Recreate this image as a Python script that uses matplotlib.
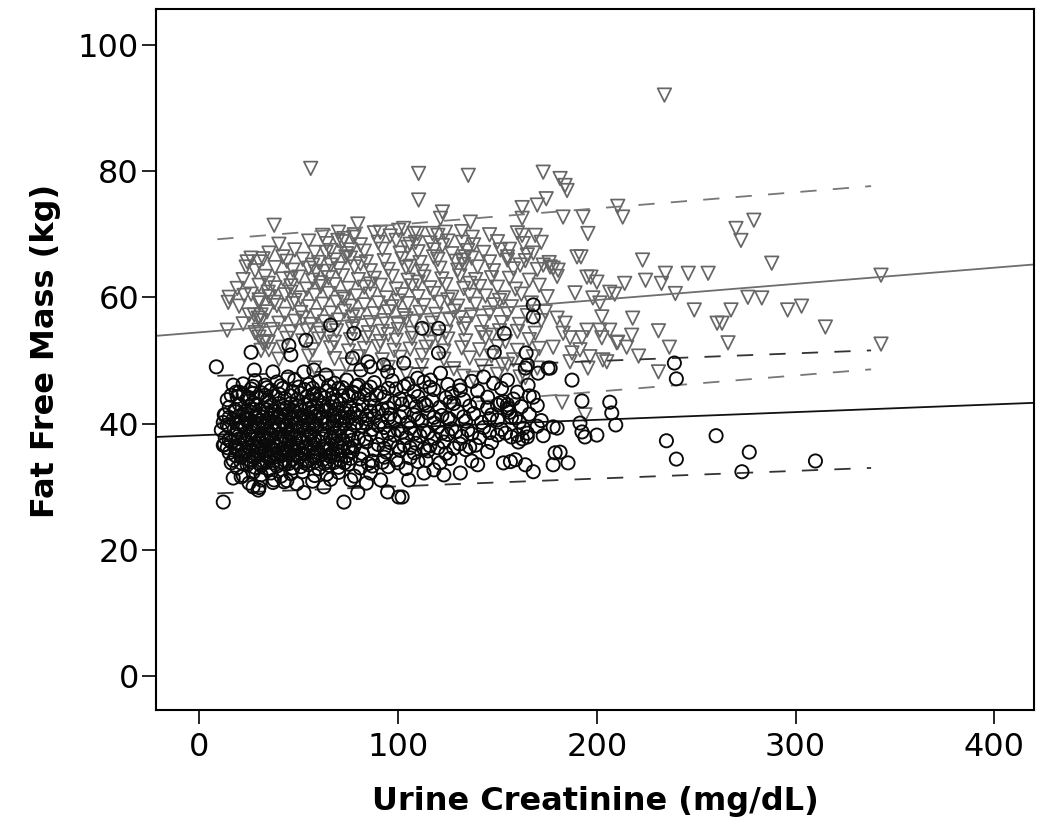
import matplotlib
matplotlib.use("Agg")
import matplotlib.pyplot as plt
import numpy as np

# ---------------- data ----------------
# Female (circles): dense core rows + scattered points
female_x = [
    22, 28, 33, 39, 48, 55, 60, 68, 74, 80, 88, 97, 105, 113, 125, 137, 148,
    20, 26, 31, 36, 42, 47, 53, 58, 64, 70, 77, 84, 91, 99, 108, 118, 127, 140, 152, 160,
    14, 19, 24, 29, 34, 38, 43, 49, 54, 59, 63, 69, 75, 80, 86, 93, 101, 110, 117, 124, 133, 145, 158, 166,
    15, 20, 25, 28, 32, 36, 40, 44, 49, 53, 57, 62, 66, 71, 76, 82, 88, 95, 102, 109, 114, 121, 128, 136, 145, 150, 162, 170,
    13, 18, 22, 26, 30, 34, 37, 41, 45, 48, 52, 56, 60, 64, 68, 73, 78, 84, 90, 96, 103, 108, 115, 122, 130, 138, 147, 156, 166,
    12, 17, 21, 24, 28, 31, 35, 38, 42, 46, 49, 53, 57, 61, 65, 69, 74, 79, 85, 91, 98, 105, 112, 118, 126, 134, 142, 150, 161, 172,
    11, 15, 19, 23, 27, 30, 33, 37, 40, 44, 47, 51, 55, 59, 63, 67, 71, 76, 82, 87, 93, 100, 106, 113, 120, 127, 135, 143, 152, 163, 170,
    13, 18, 22, 25, 29, 32, 36, 39, 43, 46, 50, 54, 58, 62, 66, 70, 75, 80, 86, 92, 98, 104, 111, 118, 125, 132, 141, 150, 157,
    12, 16, 20, 24, 27, 31, 34, 38, 41, 45, 49, 52, 56, 60, 64, 69, 73, 78, 84, 90, 96, 103, 109, 116, 123, 131, 139, 147,
    15, 19, 23, 26, 30, 33, 37, 40, 44, 48, 51, 55, 59, 63, 67, 72, 77, 82, 88, 94, 101, 108, 115, 124, 134, 145,
    17, 21, 25, 28, 32, 35, 39, 43, 47, 50, 54, 58, 62, 66, 71, 76, 81, 87, 93, 99, 106, 114, 126, 137,
    19, 24, 28, 31, 35, 39, 43, 47, 51, 55, 60, 65, 70, 75, 81, 87, 95, 104,
    22, 27, 31, 36, 41, 46, 52, 58, 64, 70, 78, 86,
    25, 31, 37, 44, 49, 57, 66, 84,
    27, 35, 46, 56, 67, 29, 40, 51, 62, 72, 26, 35, 45, 56, 68, 30, 42, 53, 64, 75, 36, 47, 58, 70,
]
female_y = [
    46.3, 46.8, 46.1, 46.6, 46.9, 46.2, 46.7, 46.4, 46.9, 46.1, 46.5, 46.8, 46.3, 46.6, 46.2, 46.7, 46.4,
    45.0, 45.5, 44.9, 45.3, 45.6, 45.1, 45.4, 44.8, 45.2, 45.6, 45.0, 45.3, 44.9, 45.5, 45.1, 45.4, 44.8, 45.2, 45.6, 45.0,
    43.8, 44.3, 43.9, 44.2, 43.7, 44.4, 44.0, 43.8, 44.3, 43.9, 44.1, 43.7, 44.4, 44.0, 43.8, 44.2, 43.9, 44.3, 43.7, 44.1, 43.8, 44.2, 43.9, 44.4,
    42.6, 43.1, 42.7, 43.0, 42.5, 42.9, 43.2, 42.6, 42.8, 43.1, 42.5, 42.9, 42.7, 43.2, 42.6, 43.0, 42.8, 42.5, 43.1, 42.7, 42.9, 42.6, 43.2, 42.8, 42.5, 43.0, 42.7, 42.9,
    41.4, 41.9, 41.5, 41.8, 41.3, 41.7, 42.0, 41.4, 41.6, 41.9, 41.3, 41.8, 41.5, 42.0, 41.4, 41.7, 41.6, 41.3, 41.9, 41.5, 41.8, 41.4, 41.7, 41.3, 41.9, 41.6, 41.4, 41.8, 41.5,
    40.2, 40.7, 40.3, 40.6, 40.1, 40.5, 40.8, 40.2, 40.4, 40.7, 40.1, 40.6, 40.3, 40.8, 40.2, 40.5, 40.4, 40.1, 40.7, 40.3, 40.6, 40.2, 40.5, 40.1, 40.7, 40.4, 40.2, 40.6, 40.3, 40.5,
    39.0, 39.5, 39.1, 39.4, 38.9, 39.3, 39.6, 39.0, 39.2, 39.5, 38.9, 39.4, 39.1, 39.6, 39.0, 39.3, 39.2, 38.9, 39.5, 39.1, 39.4, 39.0, 39.3, 38.9, 39.5, 39.2, 39.0, 39.4, 39.1, 39.3, 39.6,
    37.8, 38.3, 37.9, 38.2, 37.7, 38.1, 38.4, 37.8, 38.0, 38.3, 37.7, 38.2, 37.9, 38.4, 37.8, 38.1, 38.0, 37.7, 38.3, 37.9, 38.2, 37.8, 38.1, 37.7, 38.3, 38.0, 37.8, 38.2, 37.9,
    36.6, 37.1, 36.7, 37.0, 36.5, 36.9, 37.2, 36.6, 36.8, 37.1, 36.5, 37.0, 36.7, 37.2, 36.6, 36.9, 36.8, 36.5, 37.1, 36.7, 37.0, 36.6, 36.9, 36.5, 37.1, 36.8, 36.6, 37.0,
    35.4, 35.9, 35.5, 35.8, 35.3, 35.7, 36.0, 35.4, 35.6, 35.9, 35.3, 35.8, 35.5, 36.0, 35.4, 35.7, 35.6, 35.3, 35.9, 35.5, 35.8, 35.4, 35.7, 35.3, 35.9, 35.6,
    34.2, 34.7, 34.3, 34.6, 34.1, 34.5, 34.8, 34.2, 34.4, 34.7, 34.1, 34.6, 34.3, 34.8, 34.2, 34.5, 34.4, 34.1, 34.7, 34.3, 34.6, 34.2, 34.5, 34.1,
    33.0, 33.5, 33.1, 33.4, 32.9, 33.3, 33.6, 33.0, 33.2, 33.5, 32.9, 33.4, 33.1, 33.6, 33.0, 33.3, 33.2, 32.9,
    31.8, 32.3, 31.9, 32.2, 31.7, 32.1, 32.4, 31.8, 32.0, 32.3, 31.7, 32.2,
    30.6, 31.1, 30.7, 31.0, 30.5, 30.9, 31.2, 30.6,
    43.3, 43.5, 43.2, 43.6, 43.4, 40.9, 41.1, 40.8, 41.0, 40.9, 38.6, 38.4, 38.7, 38.5, 38.6, 36.2, 36.0, 36.3, 36.1, 36.2, 34.9, 35.1, 34.8, 35.0,
]
# second, offset layer of the very dense female core
female_core_x = [
    27, 34, 41, 50, 57, 65, 72, 79, 86, 95, 103, 116, 131,
    22, 27, 33, 40, 46, 51, 57, 61, 67, 72, 78, 83, 89,
    98, 106, 113, 126, 140, 153,
    18, 23, 27, 30, 34, 38, 42, 47, 51, 55, 59, 64, 69, 74, 79, 86, 92,
    15, 20, 24, 28, 32, 36, 39, 43, 47, 50, 55, 58, 62, 67, 71, 76, 81, 88,
    95, 101, 110, 118, 125, 133, 146, 157,
    14, 19, 22, 26, 29, 33, 36, 40, 44, 48, 52, 55, 59, 64, 68, 73, 78, 84, 90,
    95, 102, 108, 115, 122, 129, 137, 146, 154,
    15, 20, 23, 27, 30, 34, 37, 41, 44, 48, 51, 55, 58, 62, 67, 72, 77, 83,
    14, 18, 22, 25, 29, 32, 36, 39, 43, 46, 50, 54, 58, 62, 66, 71, 76, 93, 100, 106, 113, 120, 128, 136,
    18, 22, 26, 29, 33, 38, 41, 45, 49, 53, 57, 61, 65, 69, 74,
    21, 26, 30, 34, 37, 41, 45, 49, 53, 58, 63, 68, 73, 85, 92, 100, 110, 121,
]
female_core_y = [
    45.9, 45.7, 46.0, 45.8, 45.6, 46.0, 45.7, 45.9, 45.8, 45.6, 45.9, 45.8, 46.0,
    44.6, 44.8, 44.5, 44.7, 44.4, 44.8, 44.6, 44.5, 44.7, 44.4, 44.8, 44.6, 44.5,
    43.3, 43.5, 43.2, 43.4, 43.3, 43.5,
    42.2, 42.0, 42.3, 42.1, 42.2, 42.0, 42.3, 42.1, 42.2, 42.4, 42.0, 42.2, 42.3, 42.1, 42.2, 42.0, 42.3,
    41.0, 41.2, 40.9, 41.1, 41.0, 41.2, 40.9, 41.1, 41.0, 41.2, 40.9, 41.1, 41.0, 41.2, 40.9, 41.1, 41.0, 41.2,
    40.9, 41.1, 40.8, 41.0, 40.9, 41.1, 40.8, 41.0,
    39.8, 40.0, 39.7, 39.9, 39.8, 40.0, 39.7, 39.9, 39.8, 40.0, 39.7, 39.9, 39.8, 40.0, 39.7, 39.9, 39.8, 40.0, 39.7,
    38.5, 38.7, 38.4, 38.6, 38.5, 38.7, 38.4, 38.6, 38.5,
    37.4, 37.6, 37.3, 37.5, 37.4, 37.6, 37.3, 37.5, 37.4, 37.6, 37.3, 37.5, 37.4, 37.6, 37.3, 37.5, 37.4, 37.6,
    36.2, 36.4, 36.1, 36.3, 36.2, 36.4, 36.1, 36.3, 36.2, 36.4, 36.1, 36.3, 36.2, 36.4, 36.1, 36.3, 36.2, 36.1, 36.3, 36.2, 36.0, 36.2, 36.1, 36.3,
    35.0, 35.2, 34.9, 35.1, 35.0, 35.2, 34.9, 35.1, 35.0, 35.2, 34.9, 35.1, 35.0, 35.2, 34.9,
    33.8, 34.0, 33.7, 33.9, 33.8, 34.0, 33.7, 33.9, 33.8, 34.0, 33.7, 33.9, 33.8, 33.7, 33.9, 33.8, 34.0, 33.8,
]
female_scatter = [
    (8.5, 49.0), (26, 51.3), (45, 52.4), (46, 50.9), (53.6, 53.2), (66, 55.6), (77.7, 54.3),
    (112, 55.1), (120.3, 55.1), (153.4, 54.3), (120.3, 51.2), (148.4, 51.3), (164.4, 51.2),
    (165, 49.3), (164, 48.8), (170.4, 48.0), (175.4, 48.8), (165.4, 46.1), (187.5, 46.9),
    (168, 44.2), (176.5, 48.8), (239, 49.6), (240, 47.1), (192.5, 43.6), (206.5, 43.4),
    (207.5, 41.7), (209.5, 39.8), (178, 39.5), (180, 39.3), (191.5, 40.1), (192.5, 38.7),
    (194, 37.9), (200, 38.2), (235, 37.3), (260, 38.1), (240, 34.4), (276.7, 35.5), (310, 34.1),
    (273, 32.4), (179, 35.4), (181.5, 35.5), (178, 33.5), (185.5, 33.8), (155, 43.0), (155, 42.2),
    (159, 40.9), (173, 38.1), (165, 37.9), (162.5, 37.6), (160.5, 37.1), (153, 33.8), (156.5, 34.0),
    (159, 34.3), (164, 33.5), (168, 32.4), (140, 33.5), (131.3, 32.2), (123, 31.9), (118, 32.7),
    (113, 32.2), (102, 28.4), (17, 46.1), (16, 44.5), (12.5, 41.4), (12.5, 36.7), (16, 33.8),
    (17, 31.4), (21, 31.6), (12, 27.6), (30, 29.9), (27, 30.0), (52.6, 29.1), (72.7, 27.6),
    (79.7, 29.1), (94.7, 29.2), (100.3, 28.4), (168, 58.8), (168, 56.9), (77, 50.4), (84.7, 49.8),
    (92.7, 49.3), (102.8, 49.6), (121.3, 48.0), (131.3, 45.3), (143, 47.4), (155, 46.9),
    (151.4, 43.3), (155.4, 42.5), (160, 38.2), (165, 38.5), (105.3, 31.1), (91.2, 31.1),
    (76.2, 31.1), (62.7, 30.0), (42.6, 30.8), (37.6, 31.1), (29.6, 29.5), (18.5, 45.0),
    (24.5, 44.2), (27.6, 48.5), (37, 48.2), (44.6, 47.4), (52.6, 48.2), (57.6, 48.5), (63.7, 47.7),
    (81.2, 48.5), (86.2, 49.0), (94.7, 48.2), (109.8, 47.2), (116.3, 46.9),
]

# Male (triangles): dense core rows + scattered points
male_x = [
    62, 70, 78, 88, 96, 108, 120, 132, 146, 160,
    40, 55, 64, 72, 81, 90, 99, 106, 116, 125, 138, 150, 163, 172,
    35, 48, 58, 66, 74, 83, 92, 101, 110, 118, 127, 135, 143, 156, 168,
    24, 32, 44, 52, 60, 68, 76, 84, 93, 102, 111, 120, 129, 137, 146, 155, 164, 176,
    28, 38, 47, 55, 63, 70, 78, 86, 95, 104, 112, 121, 130, 140, 148, 158, 170,
    22, 33, 42, 50, 57, 65, 72, 80, 88, 97, 105, 113, 122, 131, 139, 147, 156, 166, 180,
    19, 30, 38, 46, 54, 61, 68, 75, 83, 91, 99, 107, 116, 124, 133, 141, 150, 159, 171,
    15, 26, 35, 43, 51, 58, 65, 72, 79, 86, 94, 102, 110, 118, 127, 136, 144, 153, 162, 175,
    20, 30, 39, 47, 55, 62, 69, 76, 83, 90, 97, 105, 113, 121, 130, 139, 148, 157, 167,
    25, 34, 43, 51, 59, 66, 73, 80, 88, 95, 103, 111, 119, 128, 137, 146, 155, 165, 174,
    22, 31, 40, 48, 56, 63, 70, 78, 86, 93, 100, 108, 117, 126, 134, 143, 152, 161, 172,
    28, 37, 46, 54, 61, 69, 77, 85, 92, 100, 107, 115, 124, 133, 142, 151, 160, 169,
    33, 44, 52, 60, 68, 76, 84, 91, 99, 107, 116, 125, 134, 144, 154, 166,
    31, 42, 57, 66, 75, 83, 90, 98, 106, 114, 123, 132, 141, 150, 160, 171,
    40, 55, 68, 80, 92, 101, 112, 123, 136, 147, 158, 168,
    58, 74, 95, 112, 128, 142, 155, 170,
    70, 104, 133, 150, 164,
    57, 81, 106, 133, 61, 86, 110, 136, 48, 73, 100, 125, 151, 52, 77, 104, 131, 65, 95, 120, 147,
]
male_y = [
    69.8, 70.3, 69.9, 70.2, 69.7, 70.1, 69.8, 70.4, 69.9, 70.2,
    68.4, 68.9, 68.5, 68.8, 68.3, 68.7, 69.0, 68.4, 68.6, 68.9, 68.3, 68.8, 68.5, 68.7,
    67.0, 67.5, 67.1, 67.4, 66.9, 67.3, 67.6, 67.0, 67.2, 67.5, 66.9, 67.4, 67.1, 67.6, 67.0,
    65.6, 66.1, 65.7, 66.0, 65.5, 65.9, 66.2, 65.6, 65.8, 66.1, 65.5, 66.0, 65.7, 66.2, 65.6, 65.9, 65.8, 65.5,
    64.2, 64.7, 64.3, 64.6, 64.1, 64.5, 64.8, 64.2, 64.4, 64.7, 64.1, 64.6, 64.3, 64.8, 64.2, 64.5, 64.4,
    62.8, 63.3, 62.9, 63.2, 62.7, 63.1, 63.4, 62.8, 63.0, 63.3, 62.7, 63.2, 62.9, 63.4, 62.8, 63.1, 63.0, 62.7, 63.3,
    61.4, 61.9, 61.5, 61.8, 61.3, 61.7, 62.0, 61.4, 61.6, 61.9, 61.3, 61.8, 61.5, 62.0, 61.4, 61.7, 61.6, 61.3, 61.9,
    60.0, 60.5, 60.1, 60.4, 59.9, 60.3, 60.6, 60.0, 60.2, 60.5, 59.9, 60.4, 60.1, 60.6, 60.0, 60.3, 60.2, 59.9, 60.5, 60.1,
    58.6, 59.1, 58.7, 59.0, 58.5, 58.9, 59.2, 58.6, 58.8, 59.1, 58.5, 59.0, 58.7, 59.2, 58.6, 58.9, 58.8, 58.5, 59.1,
    57.2, 57.7, 57.3, 57.6, 57.1, 57.5, 57.8, 57.2, 57.4, 57.7, 57.1, 57.6, 57.3, 57.8, 57.2, 57.5, 57.4, 57.1, 57.7,
    55.8, 56.3, 55.9, 56.2, 55.7, 56.1, 56.4, 55.8, 56.0, 56.3, 55.7, 56.2, 55.9, 56.4, 55.8, 56.1, 56.0, 55.7, 56.3,
    54.4, 54.9, 54.5, 54.8, 54.3, 54.7, 55.0, 54.4, 54.6, 54.9, 54.3, 54.8, 54.5, 55.0, 54.4, 54.7, 54.6, 54.3,
    53.0, 53.5, 53.1, 53.4, 52.9, 53.3, 53.6, 53.0, 53.2, 53.5, 52.9, 53.4, 53.1, 53.6, 53.0, 53.3,
    51.6, 52.1, 51.7, 52.0, 51.5, 51.9, 52.2, 51.6, 51.8, 52.1, 51.5, 52.0, 51.7, 52.2, 51.6, 51.9,
    50.2, 50.7, 50.3, 50.6, 50.1, 50.5, 50.8, 50.2, 50.4, 50.7, 50.1, 50.6,
    48.8, 49.3, 48.9, 49.2, 48.7, 49.1, 49.4, 48.8,
    47.4, 47.9, 47.5, 47.8, 47.3,
    65.1, 65.3, 64.9, 65.2, 62.3, 62.1, 62.4, 62.2, 59.5, 59.7, 59.4, 59.6, 59.5, 56.7, 56.9, 56.6, 56.8, 53.9, 54.1, 53.8, 54.0,
]
male_scatter = [
    (234, 92.0), (56, 80.4), (110.3, 79.6), (135.3, 79.3), (173, 79.8), (181.5, 78.8), (184, 77.7),
    (185, 76.9), (174.5, 75.6), (110.3, 75.4), (122.3, 73.5), (121.3, 72.5), (136.3, 71.9),
    (162.4, 74.2), (170, 74.6), (162.4, 72.5), (183, 72.7), (193, 72.7), (210.5, 74.4), (213, 72.7),
    (195.5, 70.1), (270, 70.9), (279, 72.2), (272.5, 69.0), (223, 65.9), (288, 65.4), (234.5, 63.8),
    (246, 63.8), (256, 63.8), (214, 62.2), (224.5, 62.7), (232.5, 62.2), (239.5, 60.6), (206.5, 60.8),
    (209, 60.5), (343, 63.5), (276, 60.0), (283, 59.9), (249, 58.0), (267.5, 58.0), (296, 58.0),
    (303, 58.6), (218, 56.7), (260.5, 55.9), (263, 55.9), (231, 54.7), (315, 55.3), (266, 52.8),
    (343, 52.6), (236.5, 52.1), (210, 52.8), (215, 52.1), (221, 50.7), (231, 48.2), (203, 50.1),
    (190, 66.4), (192, 66.4), (176.5, 64.8), (180.5, 64.3), (195, 63.2), (197, 63.2), (200, 62.4),
    (189, 60.7), (198, 59.9), (201.5, 59.1), (180, 56.7), (184, 55.9), (202.5, 56.9), (195, 54.8),
    (201.5, 54.8), (206.5, 54.8), (183, 54.3), (186.5, 53.6), (192.5, 53.6), (202.5, 53.6),
    (210.5, 52.9), (217.5, 54.0), (178, 52.1), (187.5, 51.2), (196.5, 50.6), (205, 49.8),
    (195.5, 48.8), (182.5, 43.4), (194, 41.4), (186.5, 49.8), (191.5, 51.7), (152.4, 49.3),
    (161.4, 47.4), (137.8, 47.2), (37.6, 71.4), (79.7, 71.6), (91, 70.3), (100.3, 70.6), (69.7, 69.0),
    (72.7, 69.3), (77.7, 69.5), (26, 66.2), (30, 65.6), (23.5, 64.8), (42, 66.4), (63.7, 67.1),
    (73.7, 66.4), (76, 67.5), (46, 63.0), (34.6, 62.2), (66, 65.1), (58.6, 64.0), (14.5, 59.2),
    (22.5, 60.3), (30, 59.6), (37.6, 59.2), (46, 60.8), (34.6, 60.8), (27.6, 57.2), (29.6, 56.7),
    (14, 54.8), (31, 57.2), (30, 53.7), (34.6, 52.9), (35, 51.7), (30, 54.8), (32, 52.8),
    (109.8, 70.1), (117.3, 70.1), (123.8, 70.3), (102.8, 70.9), (104.8, 67.9), (108.8, 68.7),
    (122.3, 68.2), (132.3, 68.7), (137.3, 69.5), (151.4, 67.5), (165, 66.7), (155, 66.4),
    (117.8, 66.4), (132.3, 65.9), (133.8, 66.4), (161.4, 65.1), (173, 65.1), (178, 64.6),
    (162.4, 69.8), (169, 69.8),
]

# fitted lines (intercept, slope) and 95% individual prediction half-widths
male_fit = (54.46, 0.02557)
female_fit = (38.17, 0.01222)
male_pi_half = 14.5
female_pi_half = 9.3
pi_x_range = (9, 338)

x_ticks = [0, 100, 200, 300, 400]
y_ticks = [0, 20, 40, 60, 80, 100]
x_lim = (-22, 420)
y_lim = (-5.3, 105.6)

# ---------------- plot ----------------
fx = list(female_x) + list(female_core_x) + [p[0] for p in female_scatter]
fy = list(female_y) + list(female_core_y) + [p[1] for p in female_scatter]
mx = list(male_x) + [p[0] for p in male_scatter]
my = list(male_y) + [p[1] for p in male_scatter]

fig = plt.figure(figsize=(10.5, 8.33), dpi=100)
ax = fig.add_axes([0.1483, 0.1477, 0.9848 - 0.1483, 0.989 - 0.1477])

ax.scatter(mx, my, marker='v', s=95, facecolors='none', edgecolors='#666666',
           linewidths=1.25, zorder=2)
ax.scatter(fx, fy, marker='o', s=90, facecolors='none', edgecolors='#0a0a0a',
           linewidths=1.35, zorder=3)

xs = np.array(x_lim, dtype=float)
xd = np.linspace(pi_x_range[0], pi_x_range[1], 60)

ax.plot(xs, male_fit[0] + male_fit[1] * xs, color='#6e6e6e', lw=1.3, zorder=2.5)
ax.plot(xs, female_fit[0] + female_fit[1] * xs, color='#111111', lw=1.3, zorder=2.5)
for sgn in (1, -1):
    ax.plot(xd, male_fit[0] + male_fit[1] * xd + sgn * male_pi_half, color='#777777',
            lw=1.3, dashes=(9, 9), zorder=2.5)
    ax.plot(xd, female_fit[0] + female_fit[1] * xd + sgn * female_pi_half, color='#333333',
            lw=1.3, dashes=(9, 9), zorder=2.5)

ax.set_xlim(*x_lim)
ax.set_ylim(*y_lim)
ax.set_xticks(x_ticks)
ax.set_yticks(y_ticks)
ax.tick_params(axis='both', direction='out', length=10, width=1.2, labelsize=23, colors='black')
ax.tick_params(axis='x', pad=6)
ax.tick_params(axis='y', pad=2)
for sp in ax.spines.values():
    sp.set_linewidth(1.5)
    sp.set_color('black')

ax.set_xlabel('Urine Creatinine (mg/dL)', fontsize=23, fontweight='bold')
ax.set_ylabel('Fat Free Mass (kg)', fontsize=23, fontweight='bold')
ax.xaxis.label.set_va('center')
ax.yaxis.label.set_va('center')
ax.xaxis.set_label_coords(0.5, -0.131)
ax.yaxis.set_label_coords(-0.126, 0.512)

fig.savefig('out.png', dpi=100, facecolor='white')
